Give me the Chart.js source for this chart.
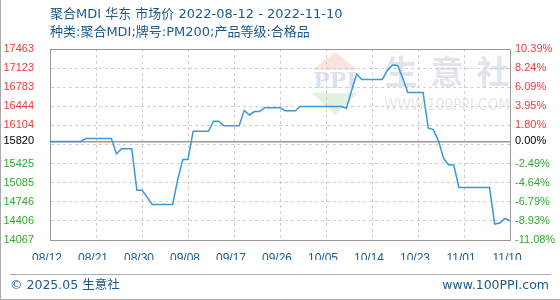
<!DOCTYPE html>
<html>
<head>
<meta charset="utf-8">
<script src="https://cdn.jsdelivr.net/npm/chart.js@4.4.1/dist/chart.umd.min.js"></script>
<style>
  html, body { margin: 0; padding: 0; background: #fff; }
  #graph { width: 560px; height: 300px; }
</style>
</head>
<body>
<div id="graph"><canvas id="chartCanvas" width="560" height="300"></canvas></div>
<script>
// Données : prix journalier du 08/12 au 11/10 (91 jours)
const titleLine1 = '聚合MDI 华东 市场价 2022-08-12 - 2022-11-10';
const titleLine2 = '种类:聚合MDI;牌号:PM200;产品等级:合格品';
const footerLeft = '© 2025.05 生意社';
const footerRight = 'www.100PPI.com';

const xTickLabels = ['08/12', '08/21', '08/30', '09/08', '09/17', '09/26', '10/05', '10/14', '10/23', '11/01', '11/10'];

const prices = [
  15820, 15820, 15820, 15820, 15820, 15820, 15820,
  15870, 15870, 15870, 15870, 15870, 15870,
  15600, 15690, 15690, 15690,
  14950, 14950, 14830,
  14700, 14700, 14700, 14700, 14700,
  15150, 15500, 15500,
  16000, 16000, 16000, 16000,
  16180, 16180,
  16100, 16100, 16100, 16100,
  16370, 16290, 16350, 16350,
  16420, 16420, 16420, 16420,
  16365, 16365, 16365,
  16440, 16440, 16440, 16440, 16440, 16440, 16440, 16440, 16440,
  16410, 16720, 17020,
  16920, 16920, 16920, 16920, 16920,
  17080, 17180, 17170, 16950,
  16690, 16690, 16690, 16690,
  16060, 16030, 15830, 15520,
  15400, 15400,
  15000, 15000, 15000, 15000, 15000, 15000, 15000,
  14350, 14370, 14450, 14410
];

const baseValue = 15820;
const yTickValues = [17463, 17123, 16783, 16444, 16104, 15765, 15425, 15085, 14746, 14406, 14067];
const yLeftLabels = ['17463', '17123', '16783', '16444', '16104', '', '15425', '15085', '14746', '14406', '14067'];
const yRightLabels = ['10.39%', '8.24%', '6.09%', '3.95%', '1.80%', '', '-2.49%', '-4.64%', '-6.79%', '-8.93%', '-11.08%'];
const baseLeftLabel = '15820';
const baseRightLabel = '0.00%';

const upColor = '#f03a3a';
const downColor = '#2eaa2e';
const textBlue = '#1b5a8c';
const mixedFont = '"DejaVu Sans", "Noto Sans CJK SC", sans-serif';

function tickColor(ctx) {
    const v = ctx.tick ? ctx.tick.value : 0;
    if (v === baseValue) return '#000';
    return v > baseValue ? upColor : downColor;
}

function buildYTicks(axis) {
    axis.ticks = yTickValues.concat([baseValue]).map(v => ({ value: v }));
}

function yLabel(labels, baseLabel) {
    return function (value) {
        if (value === baseValue) return baseLabel;
        const i = yTickValues.indexOf(value);
        return i >= 0 ? labels[i] : '';
    };
}

// Filigrane, titre, pied de page et cadre
const decorPlugin = {
    id: 'decor',
    beforeDraw(chart) {
        const c = chart.ctx;
        c.save();
        // logo PPI
        c.fillStyle = '#fae4df';
        c.beginPath(); c.moveTo(312, 70); c.lineTo(358, 70); c.lineTo(335, 52); c.closePath(); c.fill();
        c.fillStyle = '#e1f2e1';
        c.beginPath(); c.moveTo(312, 93); c.lineTo(358, 93); c.lineTo(335, 115); c.closePath(); c.fill();
        c.fillStyle = '#dbe1ee';
        c.font = 'bold 22px "DejaVu Serif"';
        c.textAlign = 'center';
        c.textBaseline = 'middle';
        c.fillText('PPI', 335, 82, 46);
        // 生意社
        c.fillStyle = '#e0e4ef';
        c.font = 'bold 33px "Noto Sans CJK SC"';
        ['生', '意', '社'].forEach((ch, i) => c.fillText(ch, 401 + i * 46, 71));
        c.fillStyle = '#e6e6e6';
        c.font = '16px "DejaVu Sans"';
        c.textAlign = 'left';
        c.fillText('WWW.100PPI.COM', 384, 106, 126);

        // titre
        c.fillStyle = textBlue;
        c.font = '13px ' + mixedFont;
        c.fillText(titleLine1, 50, 15);
        c.fillText(titleLine2, 50, 33);

        // pied de page
        c.font = '12.5px ' + mixedFont;
        c.fillText(footerLeft, 10, 286);
        c.textAlign = 'right';
        c.fillText(footerRight, 549, 286);
        c.strokeStyle = '#aaa';
        c.lineWidth = 1;
        c.beginPath(); c.moveTo(10, 274.5); c.lineTo(551, 274.5); c.stroke();
        c.beginPath(); c.moveTo(0.5, 0); c.lineTo(0.5, 299.5); c.lineTo(560, 299.5); c.stroke();
        c.restore();
    },
    beforeDatasetsDraw(chart) {
        const a = chart.chartArea;
        const c = chart.ctx;
        c.save();
        c.strokeStyle = '#999';
        c.lineWidth = 1;
        c.strokeRect(Math.round(a.left) + 0.5, Math.round(a.top) + 0.5, Math.round(a.right - a.left), Math.round(a.bottom - a.top));
        c.restore();
    }
};

var canvas = document.getElementById('chartCanvas');

var chart = new Chart(canvas, {
    type: 'line',
    data: {
        datasets: [{
            label: '聚合MDI',
            data: prices.map((v, i) => ({ x: i, y: v })),
            borderColor: '#3a98d8',
            borderWidth: 1.5,
            pointRadius: 0,
            tension: 0,
            fill: false
        }]
    },
    options: {
        responsive: false,
        animation: false,
        devicePixelRatio: 1,
        layout: { padding: { top: 49, bottom: 40, left: 0, right: 0 } },
        plugins: {
            legend: { display: false },
            title: { display: false },
            tooltip: { enabled: false }
        },
        scales: {
            x: {
                type: 'linear',
                min: 0,
                max: 90,
                afterBuildTicks: axis => { axis.ticks = xTickLabels.map((_, i) => ({ value: i * 9 })); },
                afterFit: axis => { axis.height = 20; },
                grid: { color: '#cfcfcf', drawTicks: false },
                border: { color: '#999', dash: ctx => (ctx.tick ? [3, 3] : []) },
                ticks: {
                    autoSkip: false,
                    maxRotation: 0,
                    padding: 11,
                    labelOffset: -3,
                    color: textBlue,
                    font: { family: 'Liberation Sans', size: 12 },
                    callback: (v, i) => xTickLabels[i]
                }
            },
            y: {
                type: 'linear',
                position: 'left',
                min: 14067,
                max: 17463,
                afterBuildTicks: buildYTicks,
                afterFit: axis => { axis.width = 50; },
                grid: {
                    drawTicks: false,
                    color: ctx => (ctx.tick && ctx.tick.value === baseValue ? '#999' : '#cfcfcf'),
                    lineWidth: ctx => (ctx.tick && ctx.tick.value === baseValue ? 1.5 : 1)
                },
                border: { color: '#999', dash: ctx => (ctx.tick && ctx.tick.value !== baseValue ? [3, 3] : []) },
                ticks: {
                    autoSkip: false,
                    padding: 16,
                    color: tickColor,
                    font: { family: 'Liberation Sans', size: 11 },
                    callback: yLabel(yLeftLabels, baseLeftLabel)
                }
            },
            y1: {
                type: 'linear',
                position: 'right',
                min: 14067,
                max: 17463,
                afterBuildTicks: buildYTicks,
                afterFit: axis => { axis.width = 50; },
                grid: { drawOnChartArea: false, drawTicks: false },
                border: { color: '#999' },
                ticks: {
                    autoSkip: false,
                    padding: 5,
                    color: tickColor,
                    font: { family: 'Liberation Sans', size: 11 },
                    callback: yLabel(yRightLabels, baseRightLabel)
                }
            }
        }
    },
    plugins: [decorPlugin]
});
</script>
</body>
</html>
